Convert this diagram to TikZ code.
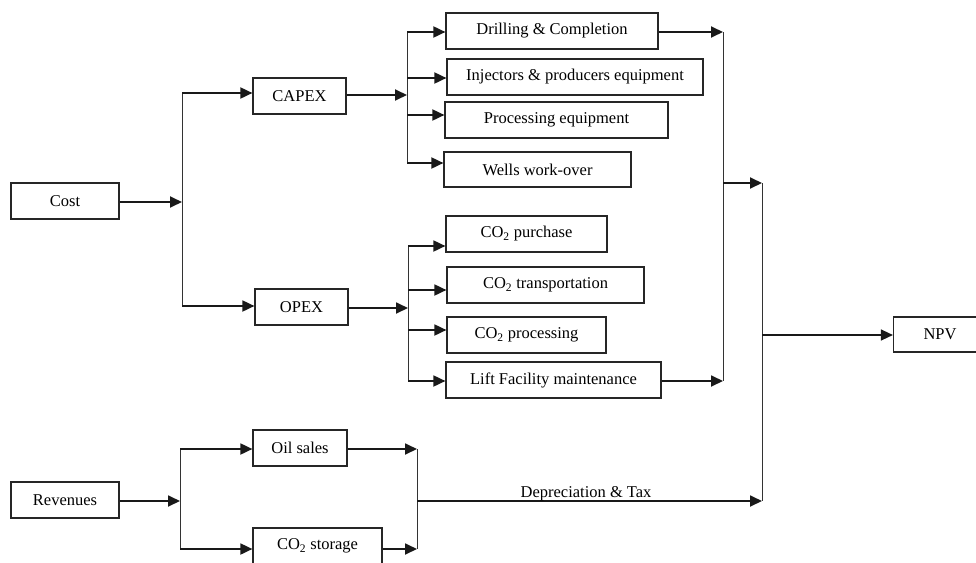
\documentclass[tikz,border=0pt]{standalone}
\usepackage{fontspec}
\setmainfont{Liberation Serif}
\usetikzlibrary{arrows.meta}
\tikzset{
  box/.style={draw=black!85, line width=1.2pt, minimum height=36pt, inner sep=0pt, font=\fontsize{16.5}{19}\selectfont},
  arr/.style={line width=1.8pt, draw=black!90, -{Triangle[length=12pt,width=11pt]}},
  vline/.style={line width=1pt, draw=black!80},
  hline/.style={line width=1.8pt, draw=black!90},
  lbl/.style={font=\fontsize{16.5}{19}\selectfont, inner sep=0pt}
}
\begin{document}
\begin{tikzpicture}[x=1pt,y=-1pt]
\useasboundingbox (0,0) rectangle (976,562);
% boxes
\node[box, minimum width=108pt] (cost) at (65,201) {Cost};
\node[box, minimum width=93pt] (capex) at (299.5,96) {CAPEX};
\node[box, minimum width=93pt] (opex) at (301.5,307) {OPEX};
\node[box, minimum width=212pt] (dc) at (552,31) {Drilling \& Completion};
\node[box, minimum width=256pt] (ip) at (575,77) {Injectors \& producers equipment};
\node[box, minimum width=223pt] (pe) at (556.5,120) {Processing equipment};
\node[box, minimum width=187pt, minimum height=35pt] (ww) at (537.5,169.5) {Wells work-over};
\node[box, minimum width=161pt] (cp) at (526.5,234) {CO\textsubscript{2} purchase};
\node[box, minimum width=197pt] (ct) at (545.5,285) {CO\textsubscript{2} transportation};
\node[box, minimum width=159pt] (cpr) at (526.5,335) {CO\textsubscript{2} processing};
\node[box, minimum width=215pt] (lf) at (553.5,380) {Lift Facility maintenance};
\node[box, minimum width=108pt] (rev) at (65,500) {Revenues};
\node[box, minimum width=94pt] (oil) at (300,448) {Oil sales};
\node[box, minimum width=129pt] (cs) at (317.5,546) {CO\textsubscript{2} storage};
\node[box, minimum width=93pt, minimum height=35pt] (npv) at (940,334.5) {NPV};
% junction coordinates
\coordinate (jcost) at (182,202);
\coordinate (jcapT) at (182,93);
\coordinate (jopB) at (182,306);
\coordinate (jcap) at (407,95);
\coordinate (jc1) at (407,32);
\coordinate (jc2) at (407,78);
\coordinate (jc3) at (407,115);
\coordinate (jc4) at (407,163);
\coordinate (jop) at (408,308);
\coordinate (jo1) at (408,246);
\coordinate (jo2) at (408,290);
\coordinate (jo3) at (408,330);
\coordinate (jo4) at (408,381);
\coordinate (jdT) at (723,32);
\coordinate (jdB) at (723,381);
\coordinate (jdM) at (723,183);
\coordinate (jnT) at (762,183);
\coordinate (jnM) at (762,335);
\coordinate (jnB) at (762,501);
\coordinate (jrev) at (180,501);
\coordinate (jrT) at (180,449);
\coordinate (jrB) at (180,549);
\coordinate (joT) at (417,449);
\coordinate (joB) at (417,549);
\coordinate (joM) at (417,501);
% cost branch
\draw[arr] (cost.east |- jcost) -- (jcost);
\draw[vline] (jcapT) -- (jopB);
\draw[arr] (jcapT) -- (jcapT -| capex.west);
\draw[arr] (jopB) -- (jopB -| opex.west);
% capex branch
\draw[arr] (capex.east |- jcap) -- (jcap);
\draw[vline] (jc1) -- (jc4);
\draw[arr] (jc1) -- (jc1 -| dc.west);
\draw[arr] (jc2) -- (jc2 -| ip.west);
\draw[arr] (jc3) -- (jc3 -| pe.west);
\draw[arr] (jc4) -- (jc4 -| ww.west);
% opex branch
\draw[arr] (opex.east |- jop) -- (jop);
\draw[vline] (jo1) -- (jo4);
\draw[arr] (jo1) -- (jo1 -| cp.west);
\draw[arr] (jo2) -- (jo2 -| ct.west);
\draw[arr] (jo3) -- (jo3 -| cpr.west);
\draw[arr] (jo4) -- (jo4 -| lf.west);
% cost collectors
\draw[arr] (dc.east |- jdT) -- (jdT);
\draw[arr] (lf.east |- jdB) -- (jdB);
\draw[vline] (jdT) -- (jdB);
\draw[arr] (jdM) -- (jnT);
\draw[vline] (jnT) -- (jnB);
\draw[arr, line width=1.4pt] (jnM) -- (jnM -| npv.west);
% revenues
\draw[arr] (rev.east |- jrev) -- (jrev);
\draw[vline] (jrT) -- (jrB);
\draw[arr] (jrT) -- (jrT -| oil.west);
\draw[arr] (jrB) -- (jrB -| cs.west);
\draw[arr] (oil.east |- joT) -- (joT);
\draw[arr] (cs.east |- joB) -- (joB);
\draw[vline] (joT) -- (joB);
\draw[arr] (joM) -- node[lbl, pos=0.49, anchor=base, yshift=4pt] {Depreciation \& Tax} (jnB);
\end{tikzpicture}
\end{document}
